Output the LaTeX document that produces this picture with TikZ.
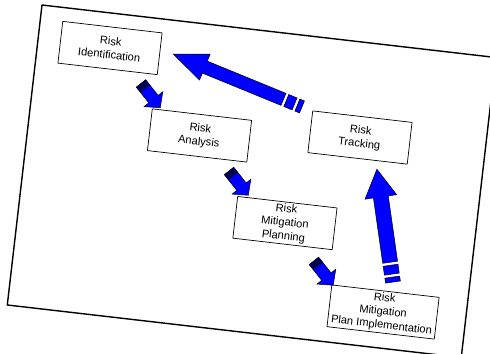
\documentclass[tikz,border=0pt]{standalone}
\usepackage{fontspec}
\setmainfont{Liberation Sans}
\definecolor{arrowblue}{RGB}{0,0,255}
\definecolor{tailblue}{RGB}{0,0,110}
\tikzset{
    stepbox/.style={
        draw, line width=0.6pt, fill=white, transform shape, align=center,
        minimum width=3cm, minimum height=1.26cm, inner sep=1pt,
        font=\fontsize{9.5}{11.7}\selectfont
    },
    blockarrow/.style={
        fill=arrowblue, draw=black, line width=0.4pt, line join=miter
    }
}
% small step arrow: tail point, angle
\newcommand{\smallarrow}[2]{%
  \begin{scope}[shift={#1}, rotate=#2]
    \draw[blockarrow] (0,-6) -- (20,-6) -- (20,-12) -- (31,0) -- (20,12) -- (20,6) -- (0,6) -- cycle;
    \fill[tailblue] (0,-6) rectangle (7,6);
    \foreach \s in {0,2.5,5} \draw[line width=0.4pt] (\s,-6) -- (\s,6);
  \end{scope}}
% big broken arrow: tail point, angle, length, head length, head half width, shaft half width
\newcommand{\bigarrow}[6]{%
  \begin{scope}[shift={#1}, rotate=#2]
    \draw[blockarrow] (20,-#6) -- ({#3-#4},-#6) -- ({#3-#4},-#5) -- (#3,0)
        -- ({#3-#4},#5) -- ({#3-#4},#6) -- (20,#6) -- cycle;
    \draw[blockarrow] (8,-#6) rectangle (17,#6);
    \draw[blockarrow] (0,-#6) rectangle (5,#6);
  \end{scope}}

\begin{document}
\begin{tikzpicture}[x=0.03cm, y=-0.03cm, line cap=round, line join=round]

    \useasboundingbox (0,0) rectangle (490,354);
    \clip (0,0) rectangle (490,354);

\begin{scope}[shift={(42,5)}, rotate=-6.6]

% tilted page frame
    \draw[line width=1.2pt] (0,0) rectangle (457,302);

% process steps
    \node[stepbox] (ident) at (72.5,34.9) {Risk\\Identification};
    \node[stepbox] (analysis) at (171.5,111.5) {Risk\\Analysis};
    \node[stepbox] (planning) at (266.4,188.7) {Risk\\Mitigation\\Planning};
    \node[stepbox, minimum width=3.24cm] (impl) at (374.1,265.8) {Risk\\Mitigation\\Plan Implementation};
    \node[stepbox] (tracking) at (331.1,95.1) {Risk\\Tracking};

% arrow tails
    \coordinate (s1) at (107.4,66.6);
    \coordinate (s2) at (204.9,143.4);
    \coordinate (s3) at (299.6,223.0);
    \coordinate (b1) at (270.0,71.4);
    \coordinate (b2) at (380.5,234.9);

% downward steps
    \smallarrow{(s1)}{-45}
    \smallarrow{(s2)}{-45}
    \smallarrow{(s3)}{-45}

% feedback loop
    \bigarrow{(b2)}{104.7}{114}{28}{16}{7.5}
    \bigarrow{(b1)}{164.3}{139}{34}{14}{6.5}

\end{scope}

\end{tikzpicture}
\end{document}
